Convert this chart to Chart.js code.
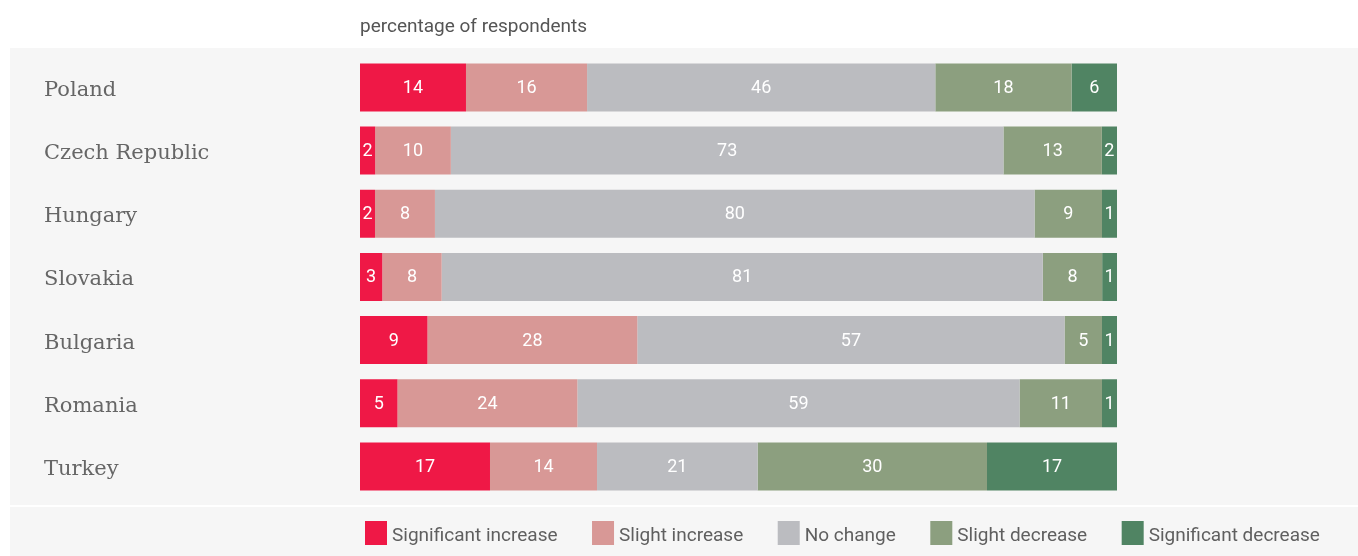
<!DOCTYPE html>
<html>
<head>
<meta charset="utf-8">
<script src="https://cdn.jsdelivr.net/npm/chart.js@4/dist/chart.umd.min.js"></script>
<style>
  html, body { margin: 0; padding: 0; background: #fff; }
  canvas { display: block; }
</style>
</head>
<body>
<canvas id="myChart" width="1358" height="556"></canvas>
<script>
const countries = ['Poland', 'Czech Republic', 'Hungary', 'Slovakia', 'Bulgaria', 'Romania', 'Turkey']
const seriesNames = ['Significant increase', 'Slight increase', 'No change', 'Slight decrease', 'Significant decrease']
const sigIncrease = [14, 2, 2, 3, 9, 5, 17]
const slightIncrease = [16, 10, 8, 8, 28, 24, 14]
const noChange = [46, 73, 80, 81, 57, 59, 21]
const slightDecrease = [18, 13, 9, 8, 5, 11, 30]
const sigDecrease = [6, 2, 1, 1, 1, 1, 17]
const colores = ['#ef1846', '#d89896', '#bbbcc0', '#8c9f7f', '#508463']

const series = [sigIncrease, slightIncrease, noChange, slightDecrease, sigDecrease]

// tiny segments get a minimum length so the label fits, then each row fills 100
const MIN_LARGO = 2
const largos = series.map(arr => arr.map(v => Math.max(v, MIN_LARGO)))
const totales = countries.map((c, i) => largos.reduce((s, arr) => s + arr[i], 0))

const FONT_SANS = 'Roboto, "Open Sans", sans-serif'

/* fondo gris y separador */
const fondo = {
    id: 'fondo',
    beforeDraw(chart) {
        const ctx = chart.ctx
        ctx.save()
        ctx.fillStyle = '#f6f6f6'
        ctx.fillRect(10, 48, chart.width - 10, 457)
        ctx.fillRect(10, 507, chart.width - 10, chart.height - 507)
        ctx.restore()
    }
}

/* numeros dentro de las barras */
const etiquetas = {
    id: 'etiquetas',
    afterDatasetsDraw(chart) {
        const ctx = chart.ctx
        ctx.save()
        ctx.fillStyle = '#ffffff'
        ctx.font = '18px ' + FONT_SANS
        ctx.textAlign = 'center'
        ctx.textBaseline = 'middle'
        chart.data.datasets.forEach((ds, d) => {
            chart.getDatasetMeta(d).data.forEach((bar, i) => {
                const cx = (bar.x + bar.base) / 2
                ctx.fillText(String(ds.raw[i]), cx, bar.y + 1)
            })
        })
        ctx.restore()
    }
}

/* leyenda abajo */
const leyenda = {
    id: 'leyenda',
    afterDraw(chart) {
        const ctx = chart.ctx
        ctx.save()
        ctx.font = '19px ' + FONT_SANS
        ctx.textBaseline = 'middle'
        ctx.textAlign = 'left'
        let x = 365
        chart.data.datasets.forEach(ds => {
            ctx.fillStyle = ds.backgroundColor
            ctx.fillRect(x, 521, 22, 24)
            ctx.fillStyle = '#5f5f5f'
            ctx.fillText(ds.label, x + 27, 536)
            x += 27 + ctx.measureText(ds.label).width + 34.5
        })
        ctx.restore()
    }
}

const ctx = document.getElementById('myChart').getContext('2d')

new Chart(ctx, {
    type: 'bar',
    data: {
        labels: countries,
        datasets: series.map((arr, k) => ({
            label: seriesNames[k],
            raw: arr,
            data: largos[k].map((v, i) => v / totales[i] * 100),
            backgroundColor: colores[k],
            borderWidth: 0,
            barPercentage: 0.76,
            categoryPercentage: 1
        }))
    },
    options: {
        indexAxis: 'y',
        responsive: false,
        animation: false,
        devicePixelRatio: 1,
        layout: {
            padding: { left: 44, right: 241, top: 0, bottom: 58 }
        },
        scales: {
            x: {
                stacked: true,
                min: 0,
                max: 100,
                display: false
            },
            y: {
                stacked: true,
                grid: { display: false },
                border: { display: false },
                ticks: {
                    crossAlign: 'far',
                    color: '#666666',
                    font: { family: '"DejaVu Serif", serif', size: 21 },
                    padding: 0,
                    labelOffset: 3
                },
                afterFit(scale) {
                    scale.width = 316
                }
            }
        },
        plugins: {
            legend: { display: false },
            tooltip: { enabled: false },
            title: {
                display: true,
                text: 'percentage of respondents',
                align: 'start',
                fullSize: false,
                color: '#555555',
                font: { family: FONT_SANS, size: 19, weight: 'normal' },
                padding: { top: 16, bottom: 17 }
            }
        }
    },
    plugins: [fondo, etiquetas, leyenda]
})
</script>
</body>
</html>
